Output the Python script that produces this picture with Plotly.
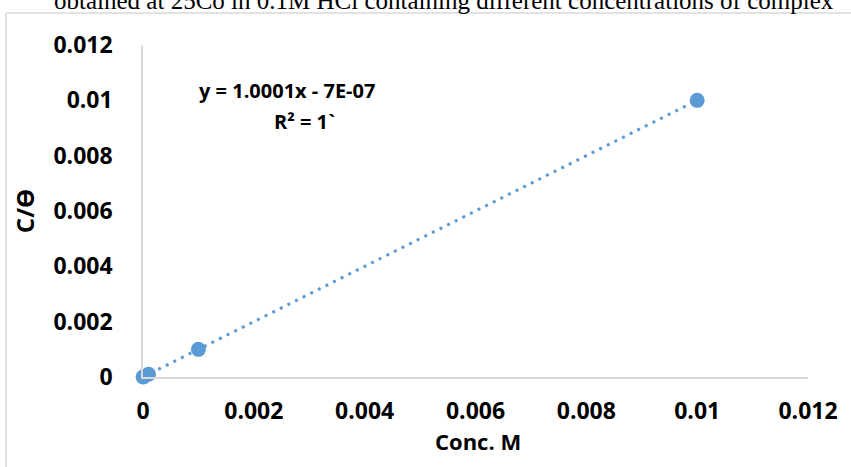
import numpy as np
import plotly.graph_objects as go

# Concentration of complex (M) and C/theta values
conc = [0.000001, 0.00001, 0.0001, 0.001, 0.01]
c_over_theta = [0.000001, 0.00001, 0.0001, 0.001, 0.01]

# Linear trendline as reported
slope = 1.0001
intercept = -7e-07
eq_text = "y = 1.0001x - 7E-07"
r2_text = "R² = 1`"

x_ticks = [0, 0.002, 0.004, 0.006, 0.008, 0.01, 0.012]
x_tick_text = ["0", "0.002", "0.004", "0.006", "0.008", "0.01", "0.012"]
y_ticks = [0, 0.002, 0.004, 0.006, 0.008, 0.01, 0.012]
y_tick_text = ["0", "0.002", "0.004", "0.006", "0.008", "0.01", "0.012"]

x_title = "Conc. M"
y_title = "C/Ө"
caption = "obtained at 25Co in 0.1M HCl containing different concentrations of complex"

BLUE = "#5B9BD5"
GRID = "#D9D9D9"
FONT = "Open Sans"

trend_x = np.array([0.0, max(conc)])
trend_y = slope * trend_x + intercept

fig = go.Figure()
fig.add_trace(go.Scatter(
    x=trend_x, y=trend_y, mode="lines",
    line=dict(color=BLUE, width=3, dash="3px,5.5px"),
    hoverinfo="skip", cliponaxis=False,
))
fig.add_trace(go.Scatter(
    x=conc, y=c_over_theta, mode="markers",
    marker=dict(color=BLUE, size=15, line=dict(width=0)),
    cliponaxis=False,
))

W, H = 851, 467
L, R, T, B = 143, 43, 45, 90
pw, ph = W - L - R, H - T - B


def px(xp):
    return (xp - L) / pw


def py(yp):
    return (H - B - yp) / ph


# outer frame (left and top edges)
fig.add_shape(type="line", xref="paper", yref="paper",
              x0=px(6), x1=px(6), y0=py(13), y1=py(H + 5),
              line=dict(color=GRID, width=1.5))
fig.add_shape(type="line", xref="paper", yref="paper",
              x0=px(6), x1=px(W + 5), y0=py(13), y1=py(13),
              line=dict(color=GRID, width=1.5))

fig.add_annotation(text=caption, xref="paper", yref="paper",
                   x=px(444), y=py(1), xanchor="center", yanchor="middle",
                   showarrow=False,
                   font=dict(family="Liberation Serif", size=25, color="black"))

# x-axis title
fig.add_annotation(text=x_title, xref="paper", yref="paper",
                   x=px(478), y=py(441), xanchor="center", yanchor="middle",
                   showarrow=False,
                   font=dict(family=FONT, size=22, color="black", weight="bold"))

fig.add_annotation(text=eq_text, x=0.0026, y=0.01035, xanchor="center",
                   yanchor="middle", showarrow=False,
                   font=dict(family=FONT, size=20, color="black", weight="bold"))
fig.add_annotation(text=r2_text, x=0.00291, y=0.00925, xanchor="center",
                   yanchor="middle", showarrow=False,
                   font=dict(family=FONT, size=20, color="black", weight="bold"))

fig.update_layout(
    width=W, height=H,
    margin=dict(l=L, r=R, t=T, b=B, pad=0),
    paper_bgcolor="white", plot_bgcolor="white",
    showlegend=False,
    font=dict(family=FONT, color="black"),
    xaxis=dict(
        range=[0, 0.012], tickvals=x_ticks, ticktext=x_tick_text,
        showgrid=False, zeroline=False, showline=True,
        linecolor=GRID, linewidth=1.5, ticks="",
        ticklabelstandoff=13,
        tickfont=dict(family=FONT, size=23, color="black", weight="bold"),
    ),
    yaxis=dict(
        range=[0, 0.012], tickvals=y_ticks, ticktext=y_tick_text,
        showgrid=False, zeroline=False, showline=True,
        linecolor=GRID, linewidth=1.5, ticks="",
        ticklabelstandoff=24,
        tickfont=dict(family=FONT, size=23, color="black", weight="bold"),
        title=dict(text=y_title, standoff=12,
                   font=dict(family=FONT, size=24, color="black", weight="bold")),
    ),
)

fig.write_html("out.html")
